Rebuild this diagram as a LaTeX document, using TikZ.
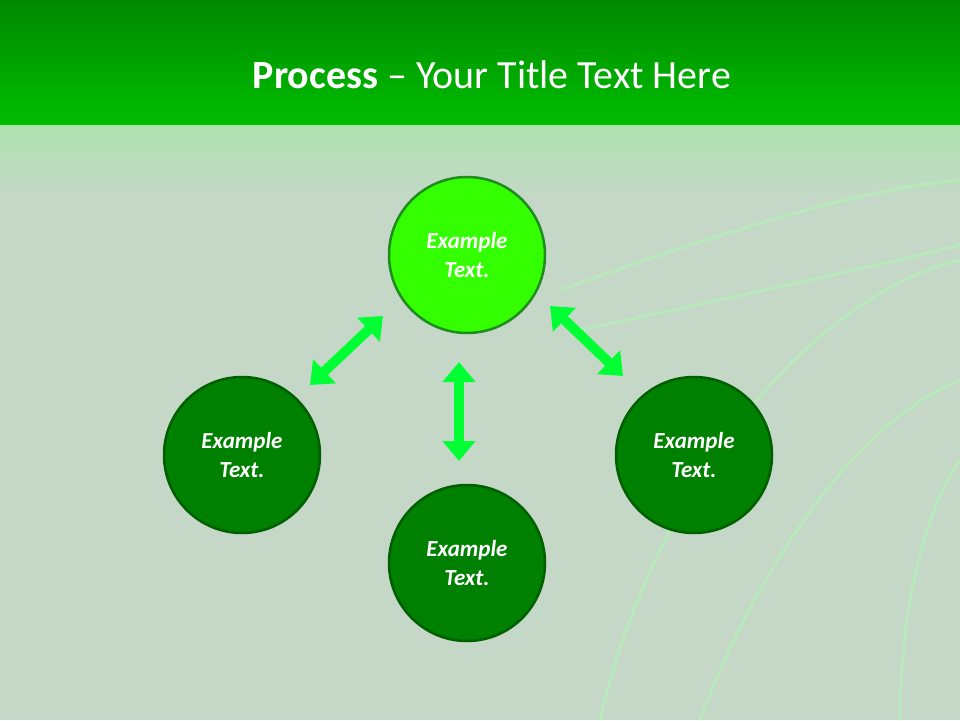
\documentclass[tikz,border=0pt]{standalone}
\usepackage{fontspec}
\setmainfont{Carlito}
\usetikzlibrary{arrows.meta}
\definecolor{bg}{RGB}{197,216,200}
\definecolor{topg}{RGB}{0,136,0}
\definecolor{midg}{RGB}{0,190,0}
\definecolor{brightc}{RGB}{51,255,0}
\definecolor{darkc}{RGB}{0,128,0}
\definecolor{arr}{RGB}{0,255,51}
\definecolor{glowc}{RGB}{170,255,170}
\tikzset{
  circ/.style={circle,minimum size=156pt,inner sep=0pt,line width=2.5pt,align=center,text=white,font=\fontsize{23}{29}\selectfont\bfseries\itshape},
  topc/.style={circ,fill=brightc,draw={rgb,255:red,30;green,140;blue,30}},
  lowc/.style={circ,fill=darkc,draw={rgb,255:red,0;green,95;blue,0}},
  dbl/.style={arr,line width=10pt,{Triangle[width=32pt,length=20pt]}-{Triangle[width=32pt,length=20pt]}},
  glow/.style={glowc,opacity=0.45,line width=3pt}
}
\begin{document}
\begin{tikzpicture}[x=1pt,y=-1pt]
\useasboundingbox (0,0) rectangle (960,720);
\fill[bg] (0,0) rectangle (960,720);
\shade[top color=topg,bottom color=midg] (0,0) rectangle (960,125);
\shade[top color=midg!40!bg!60!white,bottom color=bg] (0,125) rectangle (960,200);
\draw[glow] (600,720) .. controls (650,500) and (800,300) .. (960,260);
\draw[glow] (700,720) .. controls (760,560) and (860,420) .. (960,380);
\draw[glow] (560,290) .. controls (700,240) and (850,190) .. (960,180);
\draw[glow] (580,330) .. controls (720,300) and (860,270) .. (960,245);
\draw[glow] (900,720) .. controls (900,600) and (930,500) .. (960,460);
\node[text=white,font=\fontsize{40}{46}\selectfont] (title) at (492,75) {\textbf{Process} – Your Title Text Here};
\node[topc] (c1) at (467,255) {Example\\Text.};
\node[lowc] (c2) at (242,455) {Example\\Text.};
\node[lowc] (c3) at (694,455) {Example\\Text.};
\node[lowc] (c4) at (467,563) {Example\\Text.};
\coordinate (a1) at (310,385); \coordinate (a2) at (383,316);
\coordinate (b1) at (550,306); \coordinate (b2) at (623,376);
\coordinate (v1) at (459,362); \coordinate (v2) at (459,461);
\draw[dbl] (a1) -- (a2);
\draw[dbl] (b1) -- (b2);
\draw[dbl] (v1) -- (v2);
\end{tikzpicture}
\end{document}
